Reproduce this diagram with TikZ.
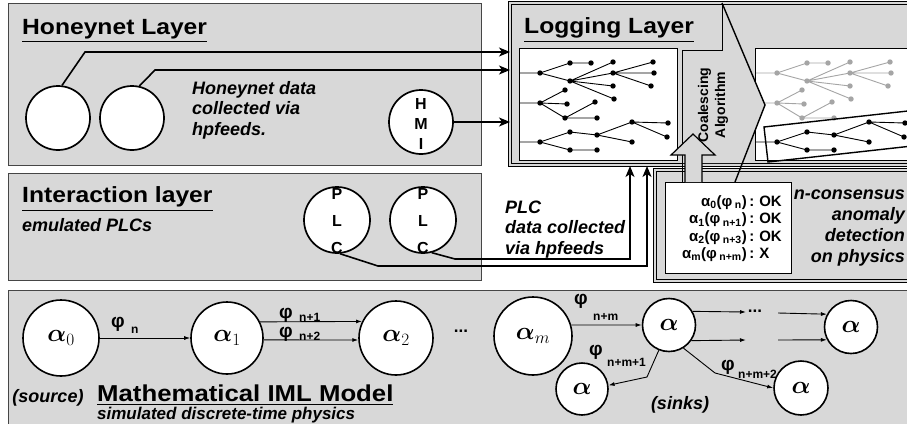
\documentclass[tikz,border=0pt]{standalone}
\usepackage[no-math]{fontspec}
\setmainfont{Liberation Sans}
\newfontfamily\ttlfont{Liberation Sans}[FakeStretch=1.12]
\usepackage{amsmath}
\usetikzlibrary{arrows.meta}
\definecolor{lgray}{RGB}{216,216,216}
\definecolor{tgray}{RGB}{165,165,165}
\definecolor{edgec}{RGB}{70,70,70}
\newcommand\myfs[2]{\fontsize{#1}{#2}\selectfont}

\newcommand\mktree[4]{%
 \begin{scope}[xshift=#2]
  \coordinate (#1ea) at (519,73);  \coordinate (#1ra) at (540,73);
  \coordinate (#1a1) at (570,63);  \coordinate (#1a2) at (570,81);
  \coordinate (#1a3) at (591,63);
  \coordinate (#1a4) at (613,62);  \coordinate (#1a5) at (613,73);
  \coordinate (#1a6) at (613,86);  \coordinate (#1a7) at (614,99);
  \coordinate (#1a8) at (653,62);  \coordinate (#1a9) at (654,73);
  \coordinate (#1a10) at (651,86);
  \coordinate (#1eb) at (519,103); \coordinate (#1rb) at (540,103);
  \coordinate (#1b1) at (565,90);  \coordinate (#1b2) at (567,104);
  \coordinate (#1b3) at (565,118); \coordinate (#1b4) at (595,102);
  \coordinate (#1b5) at (597,118);
  \coordinate (#1ec) at (519,142); \coordinate (#1rc) at (540,142);
  \coordinate (#1c1) at (570,132); \coordinate (#1c2) at (570,150);
  \coordinate (#1c3) at (597,150); \coordinate (#1c4) at (597,135);
  \coordinate (#1c5) at (632,122); \coordinate (#1c6) at (632,142);
  \coordinate (#1c7) at (668,123); \coordinate (#1c8) at (667,137);
 \end{scope}
 \draw[#3, tline] (#1ea)--(#1ra) (#1ra)--(#1a1) (#1ra)--(#1a2) (#1a1)--(#1a3)
   (#1a2)--(#1a4) (#1a2)--(#1a5) (#1a2)--(#1a6) (#1a2)--(#1a7)
   (#1a5)--(#1a8) (#1a5)--(#1a9) (#1a5)--(#1a10)
   (#1eb)--(#1rb) (#1rb)--(#1b1) (#1rb)--(#1b2) (#1rb)--(#1b3)
   (#1b3)--(#1b4) (#1b3)--(#1b5);
 \foreach \q in {ra,a1,a2,a3,a4,a5,a6,a7,a8,a9,a10,rb,b1,b2,b3,b4,b5}
   \fill[#3] (#1\q) circle (2.7);
 \draw[#4, tline] (#1ec)--(#1rc) (#1rc)--(#1c1) (#1rc)--(#1c2) (#1c2)--(#1c3)
   (#1c1)--(#1c4) (#1c4)--(#1c5) (#1c4)--(#1c6) (#1c5)--(#1c7) (#1c5)--(#1c8);
 \foreach \q in {rc,c1,c2,c3,c4,c5,c6,c7,c8}
   \fill[#4] (#1\q) circle (2.7);
}

\begin{document}
\begin{tikzpicture}[x=1pt,y=-1pt,
  layer/.style={draw=edgec, fill=lgray, line width=0.8pt},
  lframe/.style={draw=black, double=lgray, double distance=2.4pt, line width=0.7pt, fill=lgray},
  wbox/.style={draw=black, fill=white, line width=1pt},
  tline/.style={line width=0.9pt},
  circ/.style={circle, draw=black, fill=white, line width=1.7pt, inner sep=0pt},
  ttl/.style={anchor=west, inner sep=0pt, font=\ttlfont\myfs{22}{26}\bfseries},
  itx/.style={inner sep=0pt, font=\myfs{18}{20.5}\bfseries\itshape},
  ltr/.style={inner sep=0pt, align=center, font=\myfs{16}{20}\bfseries},
  barr/.style={line width=1.6pt, -{Stealth[length=11pt,width=9pt,inset=3pt]}},
  sarr/.style={line width=0.9pt, -{Latex[length=6pt,width=4pt]}},
  phi/.style={inner sep=0pt, font=\myfs{19}{19}\bfseries},
  sub/.style={inner sep=0pt, anchor=west, font=\myfs{12}{12}\bfseries},
  alf/.style={font=\myfs{25}{25}}
]
\useasboundingbox (0,0) rectangle (907,423);
\clip (0,0) rectangle (907,423);

% layer boxes
\draw[layer] (8,3) rectangle (481,165);
\draw[layer] (8,173) rectangle (481,280);
\draw[layer] (8,290) rectangle (915,430);

% logging and consensus frames
\draw[lframe] (510,3) rectangle (915,165);
\draw[lframe] (655,170) rectangle (915,281);
\draw[wbox] (519,48) rectangle (677,160);
\draw[wbox] (755,48) rectangle (915,160);
\mktree{L}{0pt}{black}{black}
\mktree{R}{237pt}{tgray}{black}
\draw[line width=1.4pt] (915,110.2) -- (764,127) -- (768,162) -- (915,145.7);
\draw[wbox] (665,182) rectangle (791,273);

% coalescing strip and arrow
\fill[lgray] (682,163) -- (682,50) -- (722,50) -- (722,3) -- (765,105) -- (742.4,163) -- cycle;
\draw[line width=1pt] (682,182) -- (682,50) -- (722,50) -- (722,3);
\draw[line width=1.4pt] (722,3) -- (765,105) -- (735,182);
\draw[line width=1.2pt, fill=lgray] (685,182) -- (685,155) -- (671,155) -- (693,134)
  -- (715,155) -- (702,155) -- (702,182);
\node[rotate=90, align=center, inner sep=0pt, font=\myfs{14}{17}\bfseries] (coal) at (713,105) {Coalescing\\Algorithm};

% titles
\node[ttl] (thon) at (22,31) {\underline{Honeynet Layer}};
\node[ttl] (tlog) at (524,30) {\underline{Logging Layer}};
\node[ttl] (tint) at (22,199) {\underline{Interaction layer}};
\node[itx, anchor=west] (temu) at (22,225) {emulated PLCs};
\node[ttl, font=\ttlfont\myfs{23}{26}\bfseries] (tmath) at (97,395.5) {\underline{Mathematical IML Model}};
\node[itx, anchor=west, font=\myfs{17}{20}\bfseries\itshape] (tsim) at (97,415) {simulated discrete-time physics};
\node[itx] (tsrc) at (48,398) {(source)};
\node[itx] (tsnk) at (680,405) {(sinks)};

% honeynet
\node[circ, minimum size=64pt] (h1) at (58,118) {};
\node[circ, minimum size=64pt] (h2) at (132,118) {};
\node[circ, minimum size=64pt] (hmi) at (421,122) {};
\node[ltr] (hmit) at (421,124) {H\\M\\I};
\node[itx, anchor=west, align=left] (hdat) at (192,110) {Honeynet data\\collected via\\hpfeeds.};
\coordinate (lA) at (510,52);
\coordinate (lB) at (510,70);
\coordinate (lC) at (510,122);
\draw[barr] (h1.83) -- (85,52) -- (lA);
\draw[barr] (h2.77) -- (155,70) -- (lB);
\draw[barr] (hmi.east) -- (lC);

% interaction
\node[circ, minimum size=66pt] (plc1) at (337,220) {};
\node[circ, minimum size=66pt] (plc2) at (423,220) {};
\node[ltr, font=\myfs{16}{27}\bfseries] (p1t) at (337,221) {P\\L\\C};
\node[ltr, font=\myfs{16}{27}\bfseries] (p2t) at (423,221) {P\\L\\C};
\node[itx, anchor=west, align=left] (pdat) at (505,229.5) {PLC\\data collected\\via hpfeeds};
\coordinate (lD) at (630,166);
\coordinate (lE) at (647,166);
\draw[barr] (plc2.-75) -- (455,259) -- (630,259) -- (lD);
\draw[barr] (plc1.-85) -- (378,266) -- (647,266) -- (lE);

% consensus
\node[anchor=east, inner sep=0pt, font=\myfs{15}{17.3}\bfseries] (cons) at (782,229)
 {\begin{tabular}{@{}r@{\,:\,\,}l@{}}
  α\textsubscript{0}(φ\,\textsubscript{n}) & OK\\
  α\textsubscript{1}(φ\,\textsubscript{n+1}) & OK\\
  α\textsubscript{2}(φ\,\textsubscript{n+3}) & OK\\
  α\textsubscript{m}(φ\,\textsubscript{n+m}) & X
 \end{tabular}};
\node[itx, anchor=east, align=right, font=\myfs{18}{21}\bfseries\itshape] (ncons) at (905,228.5)
 {n-consensus\\anomaly\\detection\\on physics};

% mathematical model
\node[circ, minimum size=76pt, line width=1.6pt, alf] (a0) at (61,338) {$\boldsymbol{\alpha}_0$};
\node[circ, minimum size=72pt, line width=1.6pt, alf] (a1) at (227,338) {$\boldsymbol{\alpha}_1$};
\node[circ, minimum size=74pt, line width=1.6pt, alf] (a2) at (396,338) {$\boldsymbol{\alpha}_2$};
\node[circ, minimum size=78pt, line width=1.6pt, alf] (am) at (533,336) {$\boldsymbol{\alpha}_m$};
\node[circ, minimum size=53pt, line width=1.6pt, alf] (an) at (669,325) {$\boldsymbol{\alpha}$};
\node[circ, minimum size=53pt, line width=1.6pt, alf] (ar) at (851,327) {$\boldsymbol{\alpha}$};
\node[circ, minimum size=52pt, line width=1.6pt, alf] (s1) at (582,389) {$\boldsymbol{\alpha}$};
\node[circ, minimum size=54pt, line width=1.6pt, alf] (s2) at (801,388) {$\boldsymbol{\alpha}$};
\node[inner sep=0pt, font=\myfs{17}{17}\bfseries] (dots1) at (461,331) {...};
\node[inner sep=0pt, font=\myfs{17}{17}\bfseries] (dots2) at (755,311) {...};

\draw[sarr] (a0) -- (a1);
\draw[sarr] (a1.26) -- (a2.154);
\draw[sarr] (a1.-3) -- (a2.183);
\draw[sarr] (am.16) -- (an.west);
\coordinate (d1) at (746,312);
\coordinate (d2) at (746,340);
\coordinate (e1) at (778,313);
\coordinate (e2) at (778,340);
\draw[sarr] (an.30) -- (d1);
\draw[sarr] (an.-35) -- (d2);
\draw[sarr] (e1) -- (ar.152);
\draw[sarr] (e2) -- (ar.-152);
\coordinate (m1) at (647,377);
\coordinate (m2) at (715,373);
\draw[sarr] (an.-112) -- (m1) -- (s1.8);
\draw[sarr] (an.-58) -- (m2) -- (s2.west);

\node[phi] (f1) at (118,324) {φ};   \node[sub] (f1s) at (131,330) {n};
\node[phi] (f2) at (286,315) {φ};   \node[sub] (f2s) at (299,317) {n+1};
\node[phi] (f3) at (286,334) {φ};   \node[sub] (f3s) at (299,336) {n+2};
\node[phi] (f4) at (581,301) {φ};   \node[sub] (f4s) at (593,317) {n+m};
\node[phi] (f5) at (596,352) {φ};   \node[sub] (f5s) at (607,362) {n+m+1};
\node[phi] (f6) at (728,367) {φ};   \node[sub] (f6s) at (738,374) {n+m+2};
\end{tikzpicture}
\end{document}
